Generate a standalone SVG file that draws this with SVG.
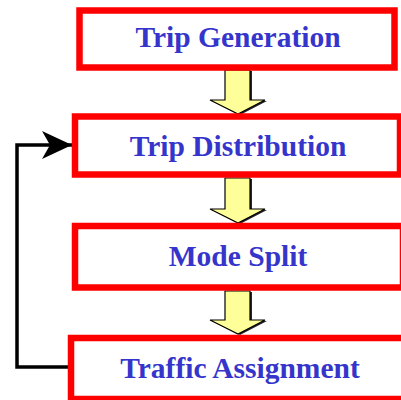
<svg xmlns="http://www.w3.org/2000/svg" width="401" height="400" viewBox="0 0 401 400">
<style>
.box{fill:#ffffff;stroke:#ff0000;stroke-width:6.5}
.lbl{font-family:"Liberation Serif","Times New Roman",serif;font-weight:bold;font-size:29.5px;fill:#3535cc;text-anchor:middle}
.flow{fill:#ffff99;stroke:#000000;stroke-width:1.2;stroke-linejoin:miter}
.shadow{fill:#000000;opacity:0.85}
.fb{fill:none;stroke:#000000;stroke-width:3.5}
</style>
<defs>
<marker id="ah" markerUnits="userSpaceOnUse" markerWidth="34" markerHeight="32" refX="30" refY="14" orient="auto">
<path d="M0,0 L30,14 L0,28 L8,14 Z" fill="#000000"/>
</marker>
</defs>
<g id="connectors">
<path class="fb" d="M70,367 H17 V145 H72" marker-end="url(#ah)"/>
<g id="arrow1">
<polygon class="shadow" points="227,71 252,71 252,101 267,101 240,115 212,101 227,101"/>
<polygon class="flow" points="225,70 250,70 250,100 265,100 238,114 210,100 225,100"/>
</g>
<g id="arrow2">
<polygon class="shadow" points="227,179 252,179 252,210 267,210 240,224 212,210 227,210"/>
<polygon class="flow" points="225,178 250,178 250,209 265,209 238,223 210,209 225,209"/>
</g>
<g id="arrow3">
<polygon class="shadow" points="227,292 252,292 252,321 267,321 240,335 212,321 227,321"/>
<polygon class="flow" points="225,291 250,291 250,320 265,320 238,334 210,320 225,320"/>
</g>
</g>
<g id="trip-generation">
<rect class="box" x="79.5" y="10.5" width="315" height="57"/>
<text class="lbl" x="238" y="47">Trip Generation</text>
</g>
<g id="trip-distribution">
<rect class="box" x="75" y="116.5" width="325" height="58"/>
<text class="lbl" x="238" y="156">Trip Distribution</text>
</g>
<g id="mode-split">
<rect class="box" x="75" y="226" width="328" height="61.5"/>
<text class="lbl" x="238" y="266">Mode Split</text>
</g>
<g id="traffic-assignment">
<rect class="box" x="71" y="338" width="335" height="61"/>
<text class="lbl" x="240" y="378">Traffic Assignment</text>
</g>
</svg>
